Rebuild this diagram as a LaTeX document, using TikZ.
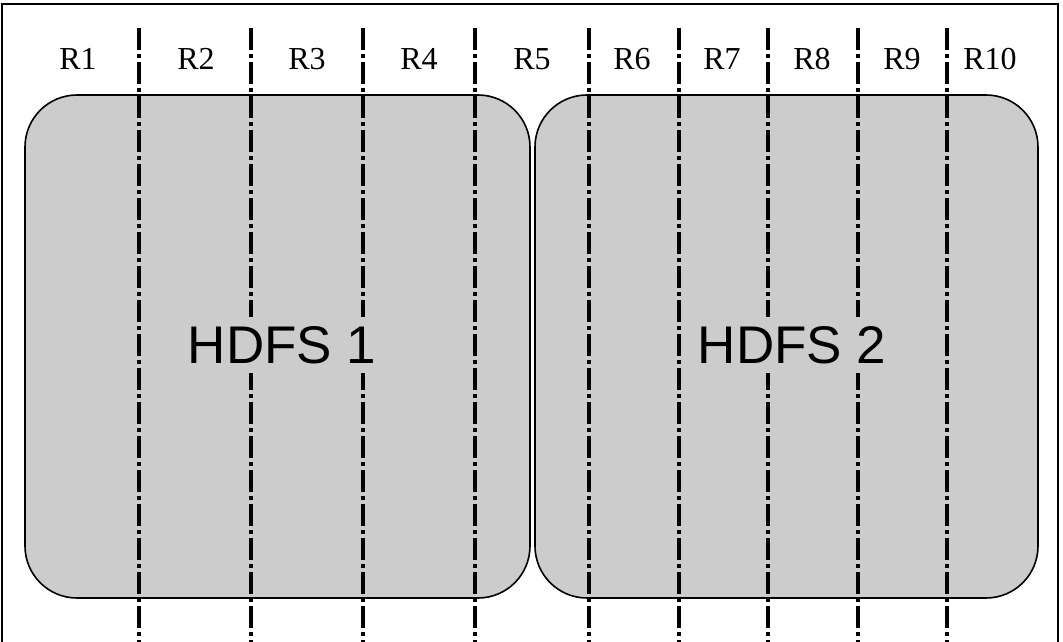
\documentclass[tikz,border=0pt]{standalone}
\usepackage{fontspec}
\setmainfont{Liberation Serif}
\newfontfamily\hdfsfont{Liberation Sans}
\usetikzlibrary{positioning}

\tikzset{
  hdfsbox/.style={draw, line width=1.6pt, fill=black!20, rounded corners=52pt,
    minimum height=503pt, inner sep=0pt},
  hdfslabel/.style={fill=black!20, inner xsep=1pt, inner ysep=9pt,
    font=\hdfsfont\fontsize{53}{58}\selectfont},
  rlabel/.style={font=\fontsize{32}{36}\selectfont, inner sep=0pt},
  regionline/.style={line width=3.6pt,
    dash pattern=on 22pt off 4pt on 4pt off 4pt}
}

\begin{document}
\begin{tikzpicture}[x=1pt,y=-1pt]

\useasboundingbox (0,0) rectangle (1063,642);

% frame, open at the bottom
\draw[line width=1.8pt] (2,660) -- (2,4) -- (1058,4) -- (1058,660);

\node[hdfsbox, minimum width=505pt] (hdfs1) at (277.5,346.5) {};
\node[hdfsbox, minimum width=503pt] (hdfs2) at (786.5,346.5) {};

\begin{scope}
\clip (0,0) rectangle (1063,642);
\foreach \x in {139,251,363,475,589,679,768,858,947}
    \draw[regionline] (\x,28) -- (\x,660);
\end{scope}

\node[hdfslabel] (hdfs1label) at (282,345) {HDFS 1};
\node[hdfslabel] (hdfs2label) at (792,345) {HDFS 2};

\foreach \x/\region in {
  78/R1,
  196/R2,
  307/R3,
  419/R4,
  532/R5,
  632/R6,
  722/R7,
  812/R8,
  902/R9,
  990/R10}
    \node[rlabel] (\region) at (\x,59) {\region};

\end{tikzpicture}
\end{document}
